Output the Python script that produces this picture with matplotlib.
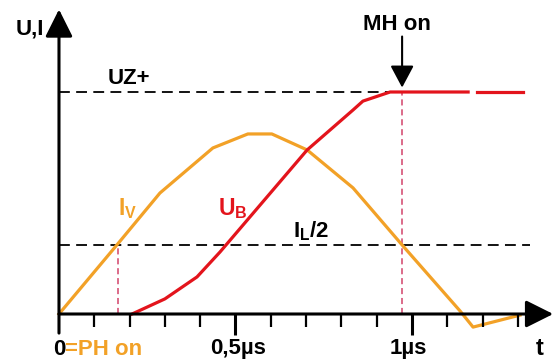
import matplotlib.pyplot as plt

plt.rcParams['font.family'] = ['Liberation Sans', 'DejaVu Sans']
plt.rcParams['font.weight'] = 'bold'
plt.rcParams['mathtext.fontset'] = 'custom'
plt.rcParams['mathtext.rm'] = 'Liberation Sans:bold'
plt.rcParams['mathtext.bf'] = 'Liberation Sans:bold'
plt.rcParams['mathtext.it'] = 'Liberation Sans:bold'

# Zeit in us, Pegel normiert auf UZ+ = 1
t_iv = [0, 0.164, 0.286, 0.436, 0.535, 0.603, 0.703, 0.833, 0.972, 1.136, 1.173, 1.306]
iv = [0, 0.311, 0.545, 0.748, 0.811, 0.811, 0.739, 0.568, 0.311, 0.014, -0.059, -0.005]

t_ub = [0.207, 0.300, 0.391, 0.456, 0.703, 0.833, 0.861, 0.938, 1.159]
ub = [0, 0.068, 0.167, 0.279, 0.739, 0.919, 0.959, 1.0, 1.0]
t_ub_end = [1.184, 1.314]
ub_end = [1.0, 1.0]

uz = 1.0
il_half = 0.311
t_ph = 0.167      # I_V erreicht I_L/2
t_mh = 0.972      # MH on
minor_ticks = [0.1, 0.2, 0.3, 0.4, 0.6, 0.7, 0.8, 0.9, 1.1, 1.2, 1.3]
major_ticks = [0.5, 1.0]

orange = '#F2A127'
red = '#E3141C'
red_dash = '#D2436A'

fig = plt.figure(figsize=(5.54, 3.61), dpi=100)
ax = fig.add_axes([0, 0, 1, 1])
ax.axis('off')
ax.set_xlim(-0.1671, 1.4023)
ax.set_ylim(-0.2117, 1.4144)

# Hilfslinien
ax.plot([0, 0.966], [uz, uz], color='black', lw=1.3, dashes=(6, 3.5))
ax.plot([0, 1.334], [il_half, il_half], color='black', lw=1.3, dashes=(6, 3.5))
ax.plot([t_ph, t_ph], [0, il_half], color=red_dash, lw=1.1, dashes=(4, 2.5))
ax.plot([t_mh, t_mh], [0, uz], color=red_dash, lw=1.1, dashes=(4, 2.5))

# Kurven
ax.plot(t_iv, iv, color=orange, lw=2.3)
ax.plot(t_ub, ub, color=red, lw=2.3)
ax.plot(t_ub_end, ub_end, color=red, lw=2.3)

# Achsen
arrow = dict(arrowstyle='-|>,head_length=0.8,head_width=0.4', color='black',
             lw=2.2, mutation_scale=21, shrinkA=0, shrinkB=0)
ax.annotate('', xy=(1.4, 0), xytext=(0, 0), arrowprops=arrow)
ax.annotate('', xy=(0, 1.372), xytext=(0, -0.086), arrowprops=arrow)
ax.vlines(minor_ticks, -0.06, 0, color='black', lw=1.6)
ax.vlines(major_ticks, -0.095, 0, color='black', lw=2.2)

# MH on Pfeil
ax.annotate('', xy=(t_mh, 1.02), xytext=(t_mh, 1.25),
            arrowprops=dict(arrowstyle='-|>,head_length=0.75,head_width=0.4',
                            color='black', lw=1.5, mutation_scale=18,
                            shrinkA=0, shrinkB=0))

# Beschriftung
fs = 16
ax.text(-0.082, 1.284, 'U,I', fontsize=fs, ha='center', va='center')
ax.text(0.198, 1.059, 'UZ+', fontsize=fs, ha='center', va='center')
ax.text(0.958, 1.306, 'MH on', fontsize=fs, ha='center', va='center')
ax.text(0.167, 0.446, r'$\mathbf{I_V}$', fontsize=16.5, color=orange, ha='left', va='baseline')
ax.text(0.450, 0.446, r'$\mathbf{U_B}$', fontsize=16.5, color=red, ha='left', va='baseline')
ax.text(0.663, 0.347, r'$\mathbf{I_L/2}$', fontsize=16, color='black', ha='left', va='baseline')
t0 = ax.text(-0.017, -0.185, '0', fontsize=fs, ha='left', va='baseline')
ax.annotate('=PH on', xy=(1, 0), xycoords=t0, fontsize=fs, color=orange,
            ha='left', va='bottom')
ax.text(0.508, -0.180, '0,5µs', fontsize=fs, ha='center', va='baseline')
ax.text(0.991, -0.180, '1µs', fontsize=fs, ha='center', va='baseline')
ax.text(1.363, -0.185, 't', fontsize=17, ha='center', va='baseline')

fig.savefig('out.png', dpi=100)
